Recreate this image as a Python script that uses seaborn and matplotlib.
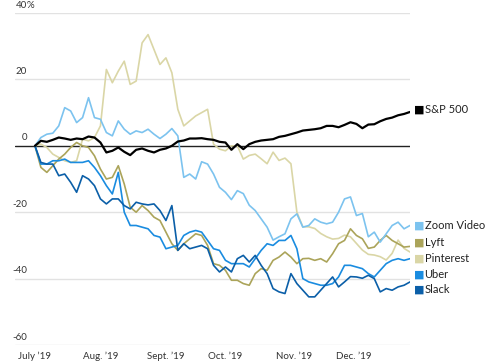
import pandas as pd
import matplotlib
matplotlib.use("Agg")
import matplotlib.pyplot as plt
import matplotlib.transforms as mtransforms
import seaborn as sns

# trading days, second half of 2019 (market holidays removed), sampled every 2nd day
holidays = ["2019-07-04", "2019-09-02", "2019-11-28", "2019-12-25"]
trading_days = pd.bdate_range("2019-07-01", "2019-12-31", freq="C", holidays=holidays)
sample_days = trading_days[::2][:64]

sp500 = [0, 1.5, 1.2, 1.8, 2.5, 2.2, 1.8, 2.2, 2.0, 2.8, 2.5, 1.0, -2.0, -1.5, -0.5, -1.8,
         -2.8, -1.2, -0.8, -1.5, -2.0, -1.2, -0.8, 0.0, 1.3, 1.6, 2.2, 2.2, 2.3, 2.0, 1.8, 1.2,
         1.0, -1.2, 0.5, -1.0, 0.5, 1.2, 1.6, 1.8, 2.0, 2.7, 3.0, 3.5, 4.0, 4.6, 4.8, 5.0,
         5.3, 6.0, 6.0, 5.6, 6.3, 7.1, 6.6, 5.3, 6.4, 6.5, 7.4, 8.1, 8.5, 9.2, 9.6, 10.2]
zoom_video = [0, 2.5, 3.5, 3.8, 6.0, 11.5, 10.5, 7.0, 8.5, 14.5, 8.5, 8.0, 4.0, 3.0, 7.5, 5.0,
              3.5, 4.5, 4.0, 5.0, 3.5, 2.2, 3.5, 5.2, 3.0, -9.5, -8.5, -10.0, -4.8, -5.5, -8.5, -12.5,
              -14.0, -16.2, -13.5, -14.4, -17.9, -19.5, -22.0, -24.5, -28.4, -27.4, -26.5, -22.0, -20.5, -24.5, -24.0, -22.0,
              -23.0, -23.5, -23.0, -20.0, -16.0, -15.4, -21.0, -20.4, -27.4, -26.0, -29.0, -26.5, -24.0, -23.0, -25.0, -24.0]
lyft = [0, -6.5, -8.0, -6.0, -4.0, -2.5, -0.5, 1.0, 0.0, -0.5, -3.0, -7.0, -10.0, -9.5, -6.0, -11.5,
        -18.5, -20.0, -18.0, -19.5, -21.5, -22.5, -26.0, -29.5, -31.5, -29.5, -28.0, -26.5, -27.0, -30.0, -35.5, -36.0,
        -37.5, -40.5, -40.5, -41.5, -42.0, -38.5, -37.0, -37.5, -34.5, -33.5, -32.0, -33.5, -35.5, -34.0, -33.9, -34.5,
        -34.0, -35.0, -32.5, -29.5, -28.5, -25.0, -27.0, -28.0, -30.9, -30.5, -28.5, -27.0, -28.5, -29.5, -30.5, -30.3]
pinterest = [0, 0.5, -0.5, -2.5, -3.5, -4.5, -5.0, -4.5, 2.0, 1.5, 2.5, 6.0, 23.0, 19.0, 22.5, 25.5,
             18.5, 19.5, 31.0, 33.5, 29.0, 24.5, 26.5, 22.0, 11.0, 6.0, 7.5, 9.0, 10.0, 11.0, 0.5, -1.0,
             -1.5, 0.0, 0.0, -4.0, -2.9, -2.5, -3.9, -5.4, -1.9, -4.4, -3.7, -5.4, -20.0, -24.4, -24.4, -24.9,
             -26.4, -27.4, -28.1, -27.9, -26.9, -27.4, -29.4, -31.4, -32.7, -32.9, -33.4, -34.4, -32.4, -28.4, -30.9, -32.0]
uber = [0, -5.5, -5.5, -4.5, -4.5, -4.0, -5.0, -5.0, -5.0, -4.5, -6.5, -9.0, -12.0, -14.5, -8.0, -20.0,
        -24.0, -24.0, -24.5, -25.0, -27.0, -27.5, -31.0, -30.5, -30.0, -27.0, -26.0, -25.5, -26.0, -28.5, -31.0, -31.5,
        -34.5, -35.5, -35.5, -35.5, -36.5, -34.0, -31.5, -29.5, -30.0, -28.5, -28.5, -27.0, -31.0, -40.0, -41.0, -41.5,
        -42.0, -42.0, -41.5, -39.5, -36.0, -36.0, -36.5, -37.0, -38.5, -39.5, -37.5, -35.5, -34.5, -34.0, -34.5, -34.0]
slack = [0, -5.0, -5.5, -5.5, -9.0, -8.5, -11.0, -14.0, -9.0, -10.0, -12.0, -16.0, -17.5, -16.0, -16.0, -18.0,
         -19.0, -17.0, -17.5, -17.8, -17.5, -19.5, -22.5, -18.0, -31.5, -29.5, -31.0, -30.5, -30.0, -31.0, -36.0, -38.0,
         -36.5, -38.0, -34.0, -33.0, -35.0, -33.0, -36.0, -38.5, -43.0, -44.0, -44.5, -38.5, -41.5, -43.5, -45.5, -45.5,
         -43.5, -41.5, -39.5, -42.5, -41.0, -39.4, -39.5, -39.9, -39.0, -40.0, -44.0, -43.0, -43.5, -42.5, -42.0, -41.0]

series_names = ["Pinterest", "Lyft", "Zoom Video", "Uber", "Slack", "S&P 500"]
series_values = [pinterest, lyft, zoom_video, uber, slack, sp500]
colors = {"S&P 500": "#000000", "Zoom Video": "#7cc3ef", "Lyft": "#aba45a",
          "Pinterest": "#dad6a6", "Uber": "#1a8ce0", "Slack": "#0b5fa8"}
label_order = ["S&P 500", "Zoom Video", "Lyft", "Pinterest", "Uber", "Slack"]
label_y = [10.8, -24.1, -29.2, -34.0, -38.7, -43.2]

month_labels = ["July \u201919", "Aug. \u201919", "Sept. \u201919", "Oct. \u201919", "Nov. \u201919", "Dec. \u201919"]

# x position = trading-day index
pos = {d: i for i, d in enumerate(trading_days)}
frames = []
for name, vals in zip(series_names, series_values):
    frames.append(pd.DataFrame({"day": [pos[d] for d in sample_days], "pct": vals, "stock": name}))
df = pd.concat(frames, ignore_index=True)

month_starts = [pos[trading_days[trading_days.month == m][0]] for m in range(7, 13)]

sns.set_style("white")
plt.rcParams["font.family"] = ["Lato", "DejaVu Sans"]

fig = plt.figure(figsize=(5, 3.64), dpi=100)
ax = fig.add_axes([0.03, 0.0522, 0.79, 0.912])

for y in [40, 20, -20, -40, -60]:
    ax.axhline(y, color="#e2e2e2", lw=1, zorder=0)
ax.axhline(0, color="#222222", lw=1, zorder=1)

sns.lineplot(data=df, x="day", y="pct", hue="stock", palette=colors,
             hue_order=series_names, linewidth=1.2, legend=False, ax=ax, zorder=3)
ax.lines[-1].set_linewidth(1.6)
ax.lines[-1].set_zorder(5)

ax.set_xlim(-6.7, 126)
ax.set_ylim(-60, 40)
for s in ax.spines.values():
    s.set_visible(False)
ax.set_xlabel("")
ax.set_ylabel("")
ax.set_yticks([])
ax.set_xticks(month_starts)
ax.set_xticklabels(month_labels, fontsize=7, color="#333333")
ax.tick_params(axis="x", length=3, width=0.8, color="#555555", pad=2)

trans = mtransforms.blended_transform_factory(ax.transAxes, ax.transData)
for y in [40, 20, 0, -20, -40, -60]:
    ax.text(0.031, y + 1.0, f"{y}", transform=trans, ha="right", va="bottom",
            fontsize=7, color="#333333")
ax.text(0.030, 41.0, "%", transform=trans, ha="left", va="bottom", fontsize=7, color="#333333")

for name, y in zip(label_order, label_y):
    ax.text(1.011, y, "\u25a0", transform=trans, ha="left", va="center",
            fontsize=8, color=colors[name], clip_on=False, family="DejaVu Sans")
    ax.text(1.037, y, name, transform=trans, ha="left", va="center",
            fontsize=8, color="#222222", clip_on=False)

fig.savefig("out.png", dpi=100)
